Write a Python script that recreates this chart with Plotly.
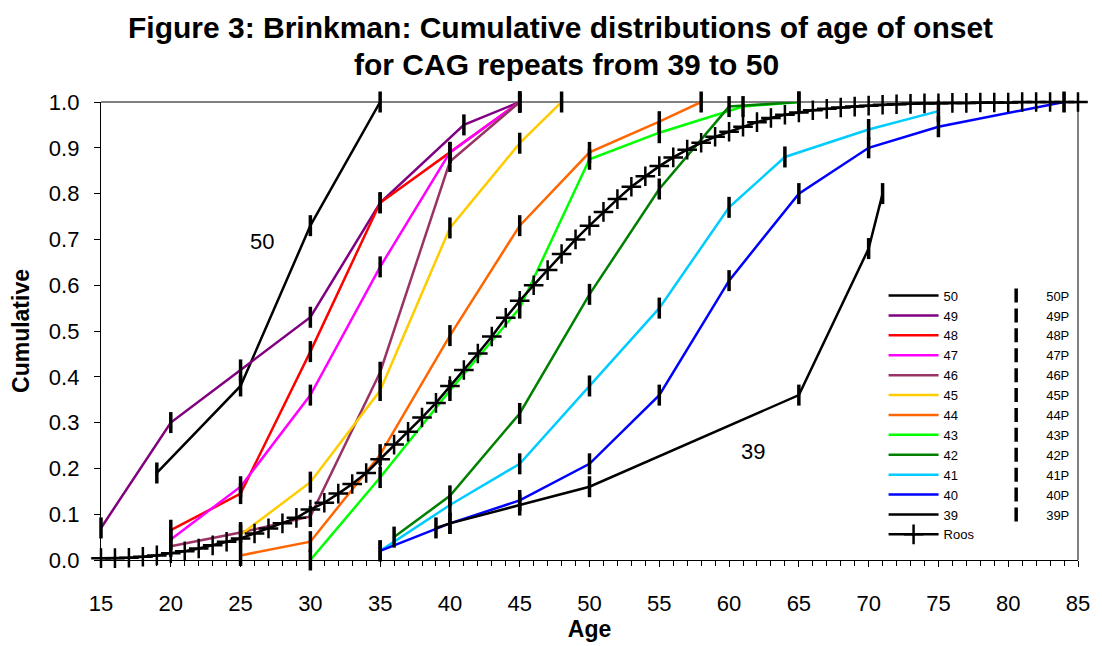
import plotly.graph_objects as go

# ---------------- data ----------------
ages_50 = [19, 25, 30, 35]
cum_50 = [0.19, 0.38, 0.73, 1.0]
ages_49 = [15, 20, 25, 30, 35, 41, 45]
cum_49 = [0.07, 0.30, 0.415, 0.53, 0.78, 0.95, 1.0]
ages_48 = [20, 25, 30, 35, 40, 45]
cum_48 = [0.065, 0.145, 0.455, 0.78, 0.89, 1.0]
ages_47 = [20, 25, 30, 35, 40, 45]
cum_47 = [0.045, 0.16, 0.36, 0.64, 0.89, 1.0]
ages_46 = [20, 25, 30, 35, 40, 45]
cum_46 = [0.03, 0.06, 0.095, 0.41, 0.87, 1.0]
ages_45 = [25, 30, 35, 40, 45, 48]
cum_45 = [0.055, 0.17, 0.37, 0.725, 0.91, 1.0]
ages_44 = [25, 30, 35, 40, 45, 50, 55, 58]
cum_44 = [0.01, 0.04, 0.23, 0.49, 0.73, 0.89, 0.957, 1.0]
ages_43 = [30, 35, 40, 45, 50, 55, 61, 65]
cum_43 = [0.0, 0.18, 0.37, 0.55, 0.875, 0.933, 0.99, 1.0]
ages_42 = [36, 40, 45, 50, 55, 60, 65]
cum_42 = [0.05, 0.14, 0.32, 0.58, 0.81, 0.99, 1.0]
ages_41 = [35, 40, 45, 50, 55, 60, 64, 70, 75]
cum_41 = [0.02, 0.12, 0.21, 0.38, 0.55, 0.77, 0.88, 0.94, 0.98]
ages_40 = [35, 40, 45, 50, 55, 60, 65, 70, 75, 84]
cum_40 = [0.02, 0.08, 0.13, 0.21, 0.36, 0.61, 0.80, 0.90, 0.946, 1.0]
ages_39 = [39, 40, 45, 50, 65, 70, 71]
cum_39 = [0.07, 0.08, 0.12, 0.16, 0.36, 0.68, 0.80]

roos_ages = list(range(15, 86))
roos_cum = [0.004, 0.004, 0.005, 0.007, 0.010, 0.015, 0.019, 0.025, 0.032, 0.040,
            0.047, 0.058, 0.069, 0.080, 0.092, 0.110, 0.125, 0.145, 0.166, 0.190,
            0.220, 0.252, 0.280, 0.311, 0.343, 0.380, 0.415, 0.451, 0.488, 0.529,
            0.566, 0.600, 0.633, 0.668, 0.700, 0.730, 0.760, 0.788, 0.815, 0.838,
            0.860, 0.879, 0.896, 0.911, 0.924, 0.935, 0.946, 0.956, 0.965, 0.972,
            0.977, 0.982, 0.985, 0.988, 0.990, 0.992, 0.994, 0.995, 0.996, 0.997,
            0.997, 0.998, 0.998, 0.999, 0.999, 0.999, 1.0, 1.0, 1.0, 1.0, 1.0]

series_names = ["50", "49", "48", "47", "46", "45", "44", "43", "42", "41", "40", "39"]
series_ages = [ages_50, ages_49, ages_48, ages_47, ages_46, ages_45, ages_44,
               ages_43, ages_42, ages_41, ages_40, ages_39]
series_cum = [cum_50, cum_49, cum_48, cum_47, cum_46, cum_45, cum_44,
              cum_43, cum_42, cum_41, cum_40, cum_39]
series_colors = ["#000000", "#800080", "#FF0000", "#FF00FF", "#993366", "#FFCC00",
                 "#FF6600", "#00FF00", "#008000", "#00CCFF", "#0000FF", "#000000"]

x_ticks = list(range(15, 90, 5))

FONT = "Arial, Liberation Sans, sans-serif"

fig = go.Figure()

for name, xs, ys, col in zip(series_names, series_ages, series_cum, series_colors):
    fig.add_trace(go.Scatter(x=xs, y=ys, mode="lines", name=name,
                             line=dict(color=col, width=2.5),
                             cliponaxis=False, legend="legend"))

fig.add_trace(go.Scatter(x=roos_ages, y=roos_cum, mode="lines+markers", name="Roos",
                         line=dict(color="black", width=2.5),
                         marker=dict(symbol="cross-thin", size=14, color="black",
                                     line=dict(color="black", width=2.5)),
                         cliponaxis=False, legend="legend"))

for name, xs, ys in zip(series_names, series_ages, series_cum):
    # point markers on the plot
    fig.add_trace(go.Scatter(x=xs, y=ys, mode="markers", name=name + "P",
                             legendgroup=name + "P", showlegend=False,
                             marker=dict(symbol="line-ns", size=15, color="black",
                                         line=dict(color="black", width=3.5)),
                             cliponaxis=False, legend="legend2"))
    # legend entry (smaller symbol, as in the original legend)
    fig.add_trace(go.Scatter(x=[None], y=[None], mode="markers", name=name + "P",
                             legendgroup=name + "P", showlegend=True,
                             marker=dict(symbol="line-ns", size=10, color="black",
                                         line=dict(color="black", width=3.5)),
                             legend="legend2", hoverinfo="skip"))

fig.update_layout(
    width=1102, height=646,
    margin=dict(l=101, r=15, t=102, b=81),
    paper_bgcolor="white", plot_bgcolor="white",
    font=dict(family=FONT, color="black", size=22),
    showlegend=True,
    legend=dict(x=0.801, y=0.61, xanchor="left", yanchor="top",
                bgcolor="rgba(0,0,0,0)", font=dict(size=13, family=FONT),
                itemwidth=50, tracegroupgap=0),
    legend2=dict(x=0.906, y=0.61, xanchor="left", yanchor="top",
                 bgcolor="rgba(0,0,0,0)", font=dict(size=13, family=FONT),
                 itemwidth=50, tracegroupgap=0),
    xaxis=dict(range=[15, 85], tickmode="array", tickvals=x_ticks,
               ticktext=[str(v) for v in x_ticks],
               showgrid=False, zeroline=False, showline=True,
               linecolor="black", linewidth=1.3,
               ticks="outside", ticklen=6, tickwidth=1.3, tickcolor="black",
               ticklabelstandoff=17,
               minor=dict(dtick=1, ticks="outside", ticklen=5, tickwidth=1.2,
                          tickcolor="black", showgrid=False),
               tickfont=dict(size=22),
               title=dict(text="<b>Age</b>", font=dict(size=23), standoff=2)),
    xaxis2=dict(range=[15, 85], overlaying="x", side="bottom", anchor="y",
                tickmode="array", tickvals=x_ticks, showticklabels=False,
                showgrid=False, zeroline=False, showline=False,
                ticks="inside", ticklen=5, tickwidth=1.3, tickcolor="black"),
    yaxis=dict(range=[0, 1], dtick=0.1, tickformat=".1f",
               showgrid=False, zeroline=False, showline=True,
               linecolor="black", linewidth=1.3,
               ticks="outside", ticklen=6, tickwidth=1.3, tickcolor="black",
               ticklabelstandoff=10,
               tickfont=dict(size=22),
               title=dict(text="<b>Cumulative</b>", font=dict(size=23), standoff=12)),
    shapes=[
        dict(type="line", xref="paper", yref="paper", x0=0, x1=1, y0=1, y1=1,
             line=dict(color="#808080", width=2), layer="below"),
        dict(type="line", xref="paper", yref="paper", x0=1, x1=1, y0=0, y1=1,
             line=dict(color="#808080", width=2), layer="below"),
    ],
    annotations=[
        dict(text="<b>Figure 3: Brinkman: Cumulative distributions of age of onset</b>",
             xref="paper", yref="paper", x=(565 - 101) / 986, y=(565 - 27) / 463,
             xanchor="center", yanchor="middle", showarrow=False,
             font=dict(size=30, family=FONT)),
        dict(text="<b>for CAG repeats from 39 to 50</b>",
             xref="paper", yref="paper", x=(571 - 101) / 986, y=(565 - 64) / 463,
             xanchor="center", yanchor="middle", showarrow=False,
             font=dict(size=30, family=FONT)),
        dict(text="50", x=26.5, y=0.695, xref="x", yref="y", showarrow=False,
             font=dict(size=22, family=FONT)),
        dict(text="39", x=61.7, y=0.238, xref="x", yref="y", showarrow=False,
             font=dict(size=22, family=FONT)),
    ],
)

fig.write_html("out.html")
